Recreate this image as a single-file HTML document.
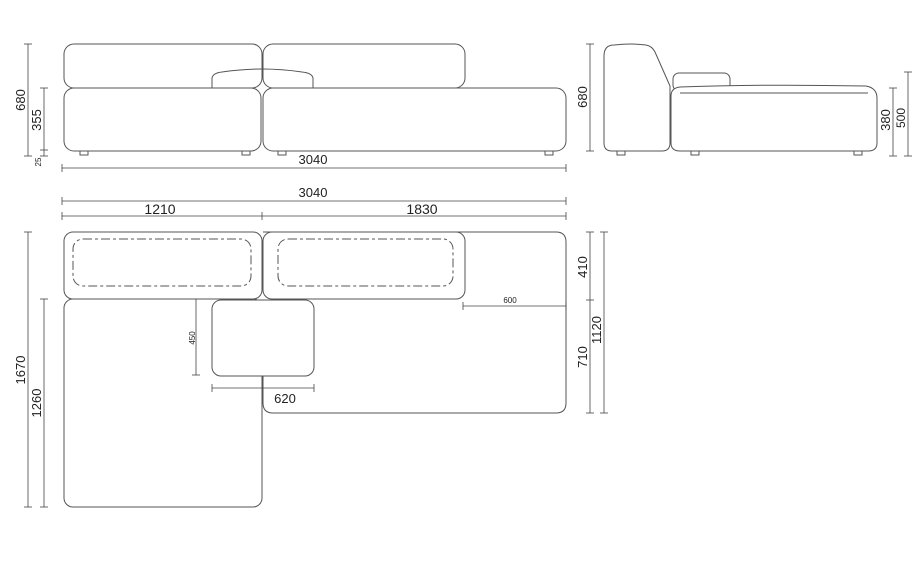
<!DOCTYPE html>
<html><head><meta charset="utf-8"><style>
html,body{margin:0;padding:0;background:#fff;}
svg{display:block;}
text{font-family:"Liberation Sans",sans-serif;fill:#222;}
</style></head><body>
<svg width="923" height="576" viewBox="0 0 923 576" xmlns="http://www.w3.org/2000/svg">
<g fill="none" stroke="#555" stroke-width="1">
<!-- FRONT VIEW -->
<rect x="64" y="44" width="198" height="44" rx="10"/>
<rect x="263" y="44" width="202" height="44" rx="10"/>
<path d="M212,88 L212,78 Q213,73 222,72 Q262,66 302,72 Q312,73 313,78 L313,88"/>
<rect x="64" y="88" width="197" height="63" rx="10" fill="#fff"/>
<rect x="263" y="88" width="303" height="63" rx="10" fill="#fff"/>
<rect x="80" y="151" width="8" height="4"/>
<rect x="242" y="151" width="8" height="4"/>
<rect x="278" y="151" width="8" height="4"/>
<rect x="545" y="151" width="8" height="4"/>
<!-- SIDE VIEW -->
<path d="M604,56 Q604,45 614,45 Q632,43 646,45 Q652,46 655,52 L670,86 L670,143 Q670,151 662,151 L612,151 Q604,151 604,143 Z"/>
<rect x="673" y="73" width="57" height="18" rx="6"/>
<path d="M671,96 Q671,88 680,87 Q760,84 866,86 Q877,88 877,98 L877,143 Q877,151 868,151 L680,151 Q671,151 671,143 Z" fill="#fff"/>
<line x1="680" y1="93" x2="868" y2="93"/>
<rect x="617" y="151" width="8" height="4"/>
<rect x="691" y="151" width="8" height="4"/>
<rect x="854" y="151" width="8" height="4"/>
<!-- PLAN -->
<path d="M263,232 L556,232 Q566,232 566,242 L566,403 Q566,413 556,413 L273,413 Q263,413 263,403 L263,376"/>
<rect x="64" y="232" width="198" height="67" rx="9" fill="#fff"/>
<rect x="263" y="232" width="202" height="67" rx="9" fill="#fff"/>
<rect x="73" y="239" width="178" height="47" rx="10" stroke-dasharray="9,3,3,3"/>
<rect x="278" y="239" width="175" height="47" rx="10" stroke-dasharray="9,3,3,3"/>
<rect x="64" y="299" width="198" height="208" rx="9" fill="#fff"/>
<rect x="212" y="300" width="102" height="76" rx="9" fill="#fff"/>
</g>
<!-- DIMENSION LINES -->
<g stroke="#444" stroke-width="0.8" fill="none">
<line x1="28" y1="44" x2="28" y2="156"/><line x1="24" y1="44" x2="32" y2="44"/><line x1="24" y1="156" x2="32" y2="156"/>
<line x1="44" y1="88" x2="44" y2="156"/><line x1="40" y1="88" x2="48" y2="88"/><line x1="40" y1="150" x2="48" y2="150"/><line x1="40" y1="156" x2="48" y2="156"/>
<line x1="62" y1="168" x2="566" y2="168"/><line x1="62" y1="164" x2="62" y2="172"/><line x1="566" y1="164" x2="566" y2="172"/>
<line x1="590" y1="44" x2="590" y2="151"/><line x1="586" y1="44" x2="594" y2="44"/><line x1="586" y1="151" x2="594" y2="151"/>
<line x1="893" y1="88" x2="893" y2="156"/><line x1="889" y1="88" x2="897" y2="88"/><line x1="889" y1="156" x2="897" y2="156"/>
<line x1="908" y1="72" x2="908" y2="156"/><line x1="904" y1="72" x2="912" y2="72"/><line x1="904" y1="156" x2="912" y2="156"/>
<line x1="62" y1="201" x2="566" y2="201"/><line x1="62" y1="197" x2="62" y2="205"/><line x1="566" y1="197" x2="566" y2="205"/>
<line x1="62" y1="216" x2="566" y2="216"/><line x1="62" y1="212" x2="62" y2="220"/><line x1="262" y1="212" x2="262" y2="220"/><line x1="566" y1="212" x2="566" y2="220"/>
<line x1="28" y1="232" x2="28" y2="507"/><line x1="24" y1="232" x2="32" y2="232"/><line x1="24" y1="507" x2="32" y2="507"/>
<line x1="44" y1="299" x2="44" y2="507"/><line x1="40" y1="299" x2="48" y2="299"/><line x1="40" y1="507" x2="48" y2="507"/>
<line x1="196" y1="299" x2="196" y2="375"/><line x1="192" y1="375" x2="200" y2="375"/>
<line x1="212" y1="388" x2="314" y2="388"/><line x1="212" y1="384" x2="212" y2="392"/><line x1="314" y1="384" x2="314" y2="392"/>
<line x1="463" y1="306" x2="566" y2="306"/><line x1="463" y1="302" x2="463" y2="310"/><line x1="566" y1="302" x2="566" y2="310"/>
<line x1="590" y1="232" x2="590" y2="413"/><line x1="586" y1="232" x2="594" y2="232"/><line x1="586" y1="300" x2="594" y2="300"/><line x1="586" y1="413" x2="594" y2="413"/>
<line x1="604" y1="232" x2="604" y2="413"/><line x1="600" y1="232" x2="608" y2="232"/><line x1="600" y1="413" x2="608" y2="413"/>
</g>
<!-- LABELS -->
<g font-size="13">
<text x="313" y="164" text-anchor="middle">3040</text>
<text x="313" y="197" text-anchor="middle">3040</text>
<text x="160" y="214" text-anchor="middle" font-size="14">1210</text>
<text x="422" y="214" text-anchor="middle" font-size="14">1830</text>
<text x="285" y="403" text-anchor="middle">620</text>
<text transform="translate(25,100) rotate(-90)" text-anchor="middle">680</text>
<text transform="translate(41,120) rotate(-90)" text-anchor="middle">355</text>
<text transform="translate(41,162) rotate(-90)" text-anchor="middle" font-size="8">25</text>
<text transform="translate(587,97) rotate(-90)" text-anchor="middle">680</text>
<text transform="translate(890,120) rotate(-90)" text-anchor="middle">380</text>
<text transform="translate(905,118) rotate(-90)" text-anchor="middle" font-size="12">500</text>
<text transform="translate(25,370) rotate(-90)" text-anchor="middle">1670</text>
<text transform="translate(41,403) rotate(-90)" text-anchor="middle">1260</text>
<text transform="translate(195,338) rotate(-90)" text-anchor="middle" font-size="8">450</text>
<text transform="translate(587,267) rotate(-90)" text-anchor="middle">410</text>
<text transform="translate(587,357) rotate(-90)" text-anchor="middle">710</text>
<text transform="translate(601,330) rotate(-90)" text-anchor="middle">1120</text>
<text x="510" y="303" text-anchor="middle" font-size="8">600</text>
</g>
</svg>
</body></html>
